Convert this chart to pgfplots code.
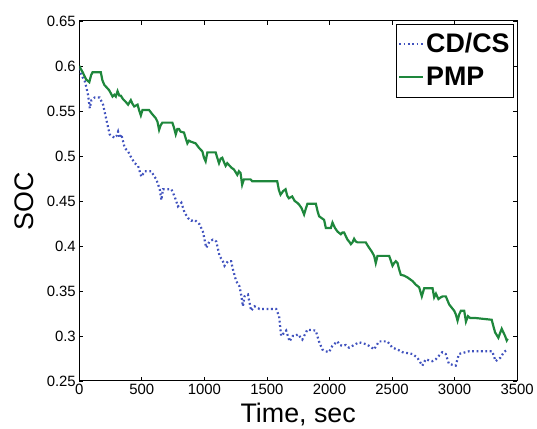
\documentclass[border=0pt]{standalone}
\usepackage{pgfplots}
\pgfplotsset{compat=1.18}
\usepackage{fontspec}
\setmainfont{Liberation Sans}
\definecolor{cdblue}{RGB}{64,82,190}
\definecolor{pmpgreen}{RGB}{30,135,60}
\begin{document}
\begin{tikzpicture}
\begin{axis}[
  name=ax,
  scale only axis,
  width=439bp, height=361bp,
  xmin=0, xmax=3500, ymin=0.25, ymax=0.65,
  xtick={0,500,...,3500},
  ytick={0.25,0.3,0.35,0.4,0.45,0.5,0.55,0.6,0.65},
  /pgf/number format/.cd, fixed, 1000 sep={}, assume math mode=true,
  /pgfplots/.cd,
  tick align=inside, major tick length=4bp,
  tick style={black, line width=0.8bp},
  axis line style={line width=1bp},
  ticklabel style={font=\fontsize{15}{17}\selectfont},
  xlabel={Time, sec}, ylabel={SOC},
  every axis x label/.style={at={(axis description cs:0.5,0)}, anchor=north, yshift=-22bp, inner sep=0pt, font=\fontsize{27}{30}\selectfont},
  every axis y label/.style={at={(axis description cs:-0.147,0.5)}, rotate=90, anchor=north, inner sep=0pt, font=\fontsize{27}{30}\selectfont},
  legend cell align=left,
  legend image code/.code={\draw[#1] (0bp,0bp) -- (24bp,0bp);},
  legend style={at={(rel axis cs:1,1)}, anchor=north east, xshift=-3bp, yshift=-3bp,
    draw=black, line width=1bp, inner xsep=2bp, inner ysep=5bp, row sep=3bp,
    font=\bfseries\fontsize{27}{30}\selectfont,
    nodes={inner xsep=2bp, inner ysep=5bp, text height=18bp, text depth=2bp}},
]
\addplot[cdblue, line width=2.2bp, dash pattern=on 1.8bp off 2.6bp] coordinates {
(0,0.597) (17,0.590) (44,0.583) (57,0.576) (70,0.568) (84,0.553) (97,0.562) (124,0.565) (163,0.565) (190,0.557) (217,0.540) (243,0.524) (283,0.520) (297,0.522) (310,0.527) (323,0.520) (336,0.524) (363,0.509) (390,0.505) (416,0.498) (443,0.492) (470,0.489) (496,0.477) (523,0.483) (576,0.483) (596,0.478) (616,0.474) (643,0.463) (656,0.451) (669,0.463) (736,0.463) (762,0.455) (789,0.444) (816,0.448) (842,0.437) (869,0.431) (895,0.428) (922,0.429) (962,0.424) (988,0.416) (1015,0.398) (1041,0.405) (1068,0.407) (1095,0.405) (1121,0.389) (1148,0.383) (1161,0.378) (1188,0.383) (1214,0.383) (1228,0.374) (1254,0.361) (1281,0.355) (1295,0.345) (1308,0.333) (1321,0.344) (1348,0.346) (1374,0.328) (1401,0.333) (1441,0.330) (1574,0.330) (1597,0.322) (1614,0.300) (1634,0.303) (1654,0.306) (1681,0.294) (1707,0.300) (1730,0.300) (1747,0.302) (1783,0.296) (1823,0.307) (1890,0.306) (1916,0.294) (1943,0.285) (1970,0.283) (1996,0.282) (2023,0.289) (2063,0.294) (2083,0.290) (2103,0.289) (2130,0.290) (2156,0.287) (2183,0.289) (2236,0.293) (2289,0.291) (2330,0.288) (2356,0.285) (2396,0.294) (2463,0.294) (2503,0.287) (2543,0.285) (2583,0.282) (2622,0.281) (2662,0.280) (2702,0.276) (2742,0.267) (2769,0.274) (2822,0.272) (2849,0.274) (2875,0.278) (2902,0.282) (2929,0.280) (2955,0.269) (2982,0.268) (3009,0.267) (3035,0.280) (3062,0.281) (3089,0.282) (3115,0.283) (3301,0.283) (3328,0.272) (3348,0.274) (3368,0.276) (3394,0.282) (3421,0.285)
};
\addlegendentry{CD/CS}
\addplot[pmpgreen, line width=2.2bp] coordinates {
(0,0.600) (15,0.596) (27,0.593) (55,0.585) (80,0.582) (95,0.590) (106,0.593) (172,0.593) (185,0.584) (200,0.579) (239,0.573) (266,0.566) (280,0.568) (292,0.566) (306,0.572) (320,0.567) (332,0.567) (350,0.563) (372,0.560) (390,0.557) (412,0.562) (425,0.558) (439,0.555) (466,0.557) (480,0.550) (492,0.545) (505,0.551) (558,0.551) (580,0.547) (611,0.542) (625,0.538) (638,0.529) (650,0.534) (664,0.537) (744,0.537) (758,0.531) (771,0.524) (784,0.530) (797,0.530) (810,0.527) (837,0.526) (850,0.520) (864,0.514) (877,0.517) (890,0.516) (930,0.514) (957,0.509) (984,0.505) (997,0.498) (1010,0.494) (1024,0.504) (1090,0.504) (1103,0.498) (1117,0.492) (1130,0.497) (1143,0.498) (1157,0.493) (1170,0.489) (1183,0.492) (1196,0.490) (1216,0.487) (1236,0.485) (1250,0.482) (1263,0.479) (1276,0.483) (1289,0.481) (1302,0.468) (1316,0.474) (1369,0.474) (1382,0.472) (1582,0.472) (1596,0.462) (1609,0.457) (1630,0.461) (1649,0.463) (1662,0.456) (1675,0.453) (1702,0.455) (1722,0.450) (1742,0.448) (1757,0.446) (1777,0.442) (1797,0.435) (1810,0.441) (1824,0.447) (1891,0.447) (1904,0.439) (1917,0.433) (1937,0.431) (1957,0.429) (1971,0.420) (2011,0.420) (2024,0.426) (2044,0.420) (2064,0.416) (2091,0.413) (2104,0.415) (2117,0.415) (2130,0.411) (2144,0.407) (2157,0.405) (2171,0.402) (2184,0.404) (2197,0.408) (2210,0.405) (2224,0.404) (2290,0.404) (2303,0.401) (2317,0.398) (2337,0.394) (2357,0.389) (2370,0.381) (2384,0.389) (2477,0.389) (2490,0.384) (2504,0.378) (2517,0.381) (2530,0.383) (2544,0.381) (2557,0.374) (2570,0.368) (2597,0.367) (2624,0.365) (2664,0.361) (2690,0.357) (2717,0.354) (2738,0.344) (2757,0.353) (2824,0.353) (2837,0.343) (2851,0.347) (2871,0.341) (2890,0.343) (2904,0.344) (2930,0.344) (2957,0.335) (2997,0.328) (3010,0.324) (3024,0.317) (3037,0.324) (3051,0.328) (3077,0.328) (3091,0.316) (3107,0.322) (3124,0.320) (3164,0.320) (3297,0.318) (3310,0.311) (3324,0.304) (3350,0.298) (3363,0.303) (3377,0.308) (3390,0.304) (3404,0.300) (3417,0.295) (3425,0.297)
};
\addlegendentry{PMP}
\end{axis}
\path ([xshift=-79.5bp,yshift=-48bp]ax.south west) rectangle ([xshift=18.5bp,yshift=21bp]ax.north east);
\end{tikzpicture}
\end{document}
